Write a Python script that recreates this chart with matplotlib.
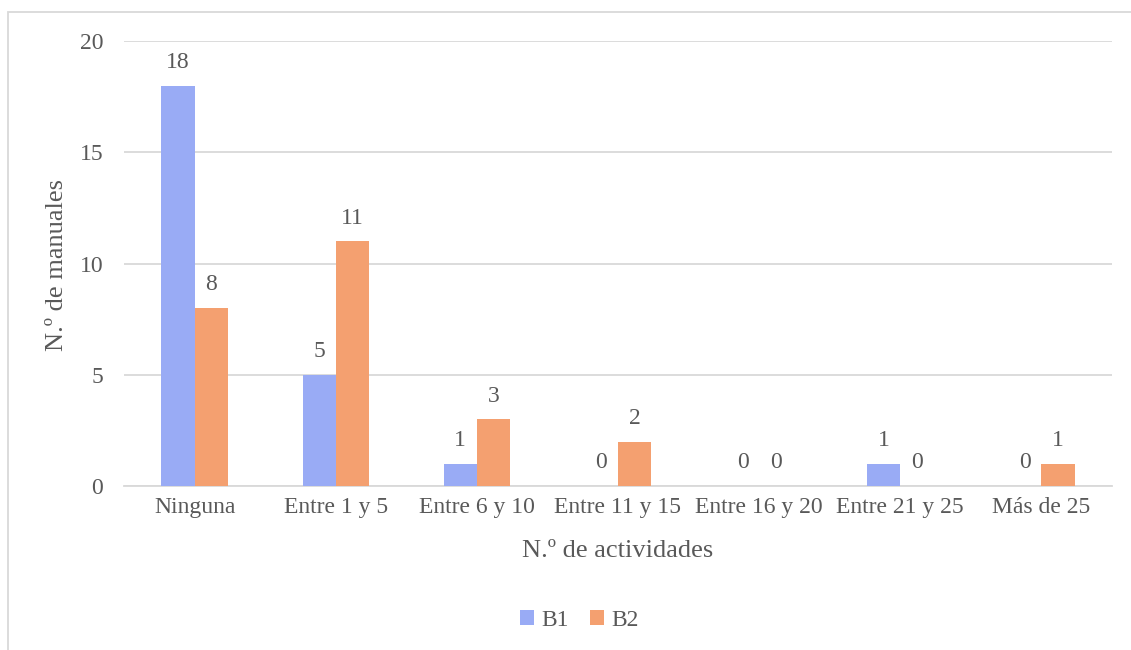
import matplotlib
matplotlib.use("Agg")
import matplotlib.pyplot as plt
import numpy as np
from matplotlib.patches import Rectangle

categories = ["Ninguna", "Entre 1 y 5", "Entre 6 y 10", "Entre 11 y 15",
              "Entre 16 y 20", "Entre 21 y 25", "Más de 25"]
b1 = [18, 5, 1, 0, 0, 1, 0]
b2 = [8, 11, 3, 2, 0, 0, 1]
series_names = ["B1", "B2"]
y_ticks = [0, 5, 10, 15, 20]

blue = "#99ABF5"
orange = "#F4A070"
text_color = "#595959"
grid_color = "#D9D9D9"

plt.rcParams["font.family"] = ["Liberation Serif", "DejaVu Serif"]

W, H = 1131, 650
fig = plt.figure(figsize=(W / 100, H / 100), dpi=100)
ax = fig.add_axes([124 / W, 1 - 486 / H, (1112 - 124) / W, (486 - 41) / H])

x = np.arange(len(categories))
bw = 0.235
bars1 = ax.bar(x - bw / 2, b1, bw, color=blue, label=series_names[0], zorder=3)
bars2 = ax.bar(x + bw / 2, b2, bw, color=orange, label=series_names[1], zorder=3)

for bars, vals in ((bars1, b1), (bars2, b2)):
    for rect, v in zip(bars, vals):
        ax.annotate(str(v), (rect.get_x() + rect.get_width() / 2, v),
                    xytext=(0, 9), textcoords="offset points",
                    ha="center", va="bottom", fontsize=17, color=text_color)

ax.set_xlim(-0.5, len(categories) - 0.5)
ax.set_ylim(0, 20)
ax.set_yticks(y_ticks)
ax.set_xticks(x)
ax.set_xticklabels(categories)
ax.tick_params(axis="both", length=0, labelsize=17, labelcolor=text_color)
ax.tick_params(axis="y", pad=15)
ax.tick_params(axis="x", pad=8)
ax.yaxis.grid(True, color=grid_color, linewidth=1.3, zorder=0)
for s in ("top", "right", "left"):
    ax.spines[s].set_visible(False)
ax.spines["bottom"].set_color(grid_color)
ax.spines["bottom"].set_linewidth(1.3)

ax.set_ylabel("N.º de manuales", fontsize=19, color=text_color)
ax.yaxis.set_label_coords(57 / W, 1 - 265 / H, transform=fig.transFigure)
ax.set_xlabel("N.º de actividades", fontsize=19, color=text_color)
ax.xaxis.set_label_coords(618 / W, 1 - 551 / H, transform=fig.transFigure)
ax.xaxis.label.set_va("center")
ax.yaxis.label.set_va("center")

fig.legend(loc="center", bbox_to_anchor=(579 / W, 1 - 620 / H), ncol=2,
           frameon=False, fontsize=17, labelcolor=text_color,
           handlelength=0.6, handleheight=0.6, handletextpad=0.3,
           columnspacing=0.9)

fig.patches.append(Rectangle((8 / W, -0.1), 1.2, 1 - 12 / H + 0.1,
                             transform=fig.transFigure, fill=False,
                             edgecolor="#D9D9D9", linewidth=1.3))

fig.savefig("out.png", dpi=100)
